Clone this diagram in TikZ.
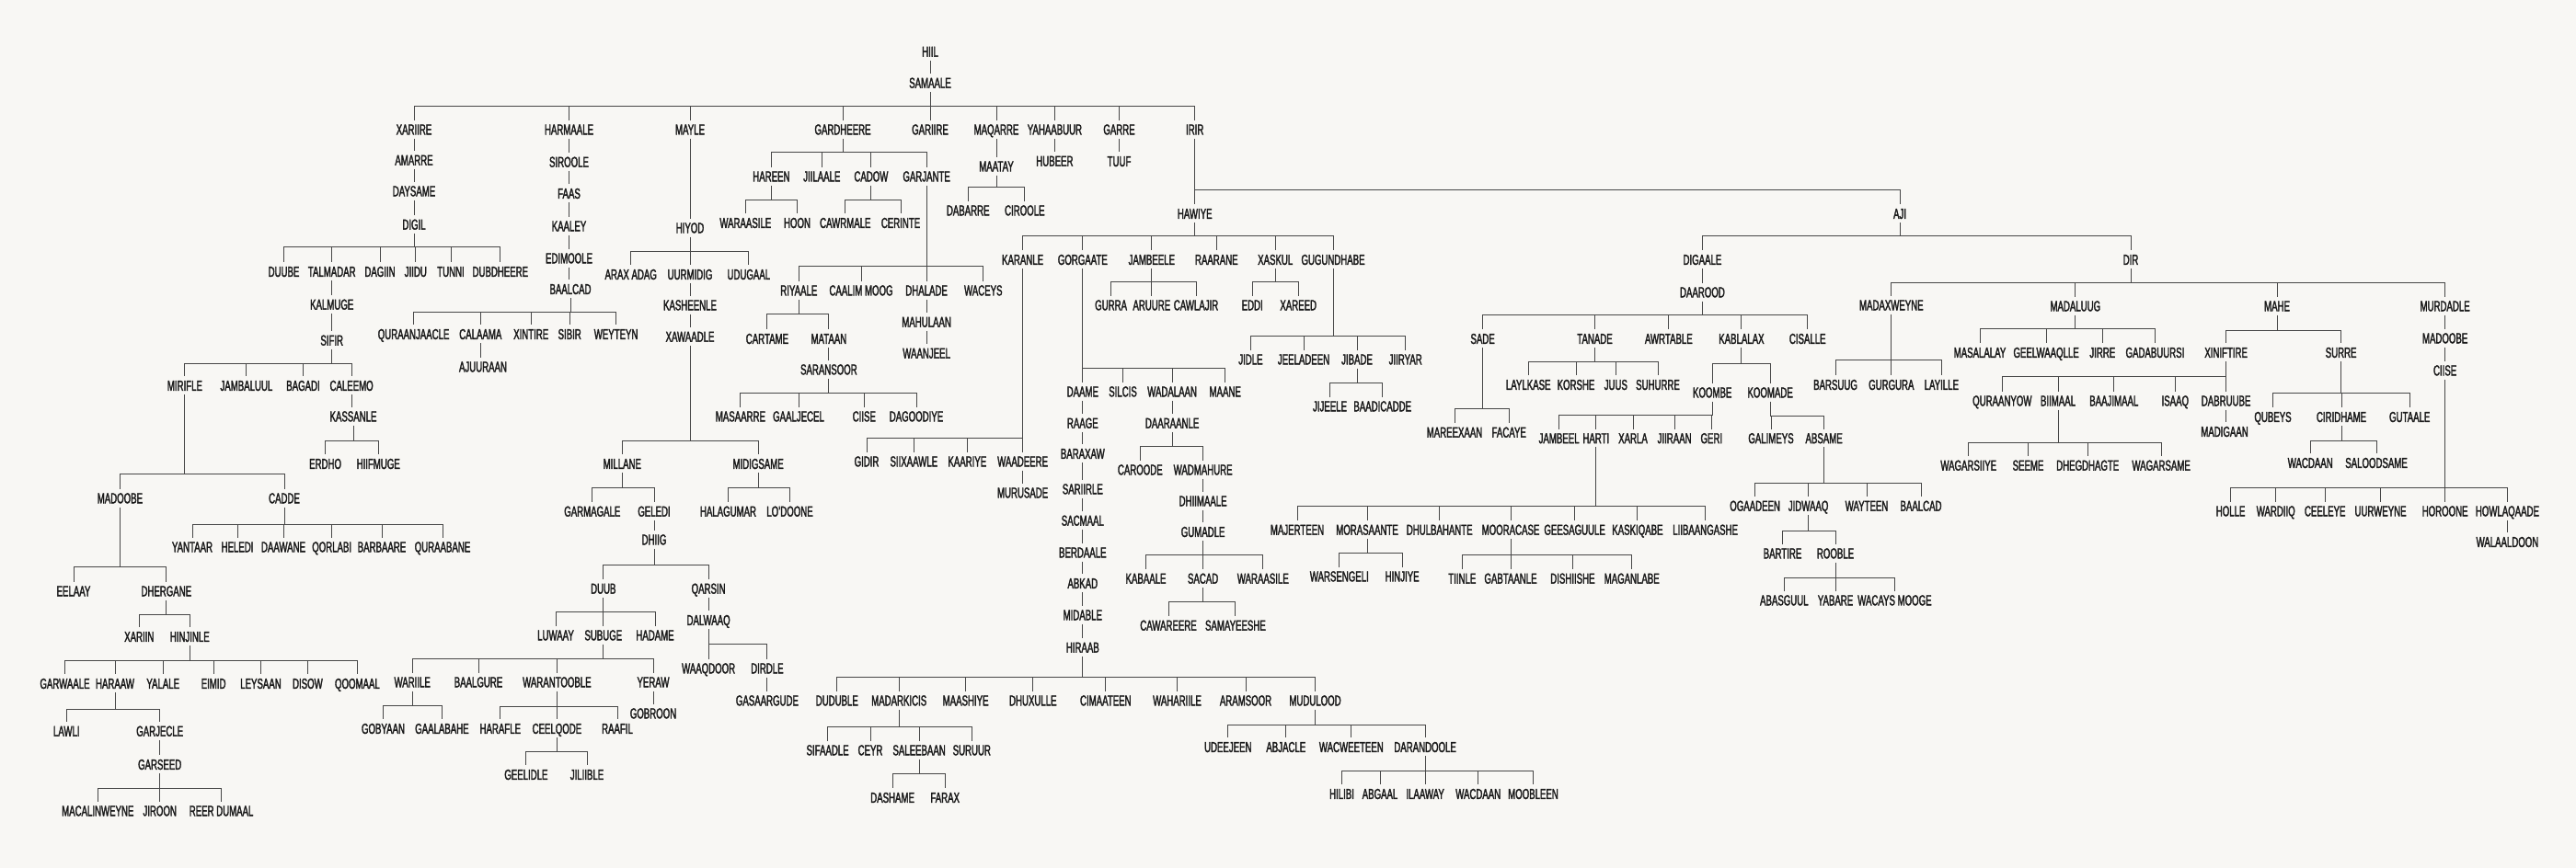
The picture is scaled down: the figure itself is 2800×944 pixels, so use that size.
\documentclass[tikz,border=0pt]{standalone}
\usepackage{fontspec}
\setmainfont{Liberation Sans}[FakeStretch=0.61,FakeBold=2]
\definecolor{bgc}{HTML}{F8F7F4}
\definecolor{linec}{HTML}{474747}
\definecolor{txtc}{HTML}{1A1A1A}
\tikzset{
  lbl/.style={inner xsep=1pt, inner ysep=4pt, text height=11.3pt, text depth=0pt, text=txtc, font=\fontsize{15.8}{17}\selectfont},
  conn/.style={draw=linec, line width=0.95pt}
}
\newcommand\nd[4]{\node[lbl] (#1) at (#2,#3) {#4};}
\newcommand\vlink[2]{\draw[conn] (#1.south) -- (#1.south |- #2.north);}
\newcommand\kids[3]{%
  \draw[conn] (#1.south) -- (#1.south |- 0,#2)
    \foreach \c in {#3}{ (#1.south |- 0,#2) -| (\c.north) };%
}
\begin{document}
\begin{tikzpicture}[x=1pt,y=-1pt]
\fill[bgc] (0,0) rectangle (2800,944);
\useasboundingbox (0,0) rectangle (2800,944);
% ---------- top
\nd{hiil}{1011}{56}{HIIL}
\nd{samaale}{1011}{90}{SAMAALE}
\nd{xariire}{450}{140.7}{XARIIRE}
\nd{harmaale}{618.5}{140.7}{HARMAALE}
\nd{mayle}{750}{140.7}{MAYLE}
\nd{gardheere}{916}{140.7}{GARDHEERE}
\nd{gariire}{1011}{140.7}{GARIIRE}
\nd{maqarre}{1083}{140.7}{MAQARRE}
\nd{yahaabuur}{1146.4}{140.7}{YAHAABUUR}
\nd{garre}{1216.5}{140.7}{GARRE}
\nd{irir}{1298.7}{140.7}{IRIR}
\vlink{hiil}{samaale}
\kids{samaale}{115}{xariire,harmaale,mayle,gardheere,gariire,maqarre,yahaabuur,garre,irir}
% ---------- Xariire
\nd{amarre}{450}{174}{AMARRE}
\nd{daysame}{450}{207.7}{DAYSAME}
\nd{digil}{450}{244}{DIGIL}
\vlink{xariire}{amarre}\vlink{amarre}{daysame}\vlink{daysame}{digil}
\nd{duube}{308.5}{295.3}{DUUBE}
\nd{talmadar}{360.7}{295.3}{TALMADAR}
\nd{dagiin}{413}{295.3}{DAGIIN}
\nd{jiidu}{451.8}{295.3}{JIIDU}
\nd{tunni}{490}{295.3}{TUNNI}
\nd{dubdheere}{543.8}{295.3}{DUBDHEERE}
\kids{digil}{268.7}{duube,talmadar,dagiin,jiidu,tunni,dubdheere}
\nd{kalmuge}{360.7}{331}{KALMUGE}
\nd{sifir}{360.7}{370}{SIFIR}
\vlink{talmadar}{kalmuge}\vlink{kalmuge}{sifir}
\nd{mirifle}{200.9}{419.3}{MIRIFLE}
\nd{jambaluul}{267.9}{419.3}{JAMBALUUL}
\nd{bagadi}{329.5}{419.3}{BAGADI}
\nd{caleemo}{382.1}{419.3}{CALEEMO}
\kids{sifir}{395}{mirifle,jambaluul,bagadi,caleemo}
\nd{kassanle}{384}{452.7}{KASSANLE}
\vlink{caleemo}{kassanle}
\nd{erdho}{353.6}{504.3}{ERDHO}
\nd{hiifmuge}{411.2}{504.3}{HIIFMUGE}
\kids{kassanle}{479.3}{erdho,hiifmuge}
\nd{madoobeA}{130.4}{541.7}{MADOOBE}
\nd{cadde}{309}{541.7}{CADDE}
\kids{mirifle}{515.3}{madoobeA,cadde}
\nd{yantaar}{209}{594.7}{YANTAAR}
\nd{heledi}{258}{594.7}{HELEDI}
\nd{daawane}{308}{594.7}{DAAWANE}
\nd{qorlabi}{360.7}{594.7}{QORLABI}
\nd{barbaare}{415}{594.7}{BARBAARE}
\nd{quraabane}{481}{594.7}{QURAABANE}
\kids{cadde}{570.3}{yantaar,heledi,daawane,qorlabi,barbaare,quraabane}
\nd{eelaay}{80}{642.7}{EELAAY}
\nd{dhergane}{180.8}{642.7}{DHERGANE}
\kids{madoobeA}{616.7}{eelaay,dhergane}
\nd{xariin}{151.3}{692.3}{XARIIN}
\nd{hinjinle}{206.3}{692.3}{HINJINLE}
\kids{dhergane}{668}{xariin,hinjinle}
\nd{garwaale}{70.5}{743.3}{GARWAALE}
\nd{haraaw}{125}{743.3}{HARAAW}
\nd{yalale}{177.2}{743.3}{YALALE}
\nd{eimid}{232.1}{743.3}{EIMID}
\nd{leysaan}{283.5}{743.3}{LEYSAAN}
\nd{disow}{334.4}{743.3}{DISOW}
\nd{qoomaal}{388.4}{743.3}{QOOMAAL}
\kids{hinjinle}{718.3}{garwaale,haraaw,yalale,eimid,leysaan,disow,qoomaal}
\nd{lawli}{72.3}{795}{LAWLI}
\nd{garjecle}{173.7}{795}{GARJECLE}
\kids{haraaw}{771.3}{lawli,garjecle}
\nd{garseed}{173.7}{831.3}{GARSEED}
\vlink{garjecle}{garseed}
\nd{macalinweyne}{106.3}{881.7}{MACALINWEYNE}
\nd{jiroon}{173.7}{881.7}{JIROON}
\nd{reerdumaal}{240.6}{881.7}{REER DUMAAL}
\kids{garseed}{857.3}{macalinweyne,jiroon,reerdumaal}
% ---------- Harmaale
\nd{siroole}{618.5}{176}{SIROOLE}
\nd{faas}{618.5}{210.3}{FAAS}
\nd{kaaley}{618.5}{245.7}{KAALEY}
\nd{edimoole}{618.5}{280.7}{EDIMOOLE}
\nd{baalcadA}{620}{314.3}{BAALCAD}
\vlink{harmaale}{siroole}\vlink{siroole}{faas}\vlink{faas}{kaaley}\vlink{kaaley}{edimoole}\vlink{edimoole}{baalcadA}
\nd{quraanjaacle}{449.6}{363.3}{QURAANJAACLE}
\nd{calaama}{522.3}{363.3}{CALAAMA}
\nd{xintire}{577.2}{363.3}{XINTIRE}
\nd{sibir}{619.2}{363.3}{SIBIR}
\nd{weyteyn}{669.6}{363.3}{WEYTEYN}
\kids{baalcadA}{339.3}{quraanjaacle,calaama,xintire,sibir,weyteyn}
\nd{ajuuraan}{525}{398.7}{AJUURAAN}
\vlink{calaama}{ajuuraan}
% ---------- Mayle
\nd{hiyod}{750}{247.7}{HIYOD}
\vlink{mayle}{hiyod}
\nd{araxadag}{685.7}{298.3}{ARAX ADAG}
\nd{uurmidig}{750}{298.3}{UURMIDIG}
\nd{udugaal}{813.8}{298.3}{UDUGAAL}
\kids{hiyod}{273}{araxadag,uurmidig,udugaal}
\nd{kasheenle}{750}{331.7}{KASHEENLE}
\nd{xawaadle}{750}{366}{XAWAADLE}
\vlink{uurmidig}{kasheenle}\vlink{kasheenle}{xawaadle}
\nd{millane}{676.3}{504.3}{MILLANE}
\nd{midigsame}{824.1}{504.3}{MIDIGSAME}
\kids{xawaadle}{479.3}{millane,midigsame}
\nd{garmagale}{643.8}{556}{GARMAGALE}
\nd{geledi}{711}{556}{GELEDI}
\kids{millane}{530}{garmagale,geledi}
\nd{halagumar}{791.5}{556}{HALAGUMAR}
\nd{lodoone}{858.5}{556}{LO'DOONE}
\kids{midigsame}{530}{halagumar,lodoone}
\nd{dhiig}{711}{586.7}{DHIIG}
\vlink{geledi}{dhiig}
\nd{duub}{655.8}{640}{DUUB}
\nd{qarsin}{770.1}{640}{QARSIN}
\kids{dhiig}{614.3}{duub,qarsin}
\nd{luwaay}{604}{690.7}{LUWAAY}
\nd{subuge}{655.8}{690.7}{SUBUGE}
\nd{hadame}{712}{690.7}{HADAME}
\kids{duub}{665.3}{luwaay,subuge,hadame}
\nd{wariile}{448.2}{741.7}{WARIILE}
\nd{baalgure}{520}{741.7}{BAALGURE}
\nd{warantooble}{605.4}{741.7}{WARANTOOBLE}
\nd{yeraw}{710}{741.7}{YERAW}
\kids{subuge}{716}{wariile,baalgure,warantooble,yeraw}
\nd{gobyaan}{416.5}{792.3}{GOBYAAN}
\nd{gaalabahe}{480.4}{792.3}{GAALABAHE}
\kids{wariile}{767.3}{gobyaan,gaalabahe}
\nd{harafle}{543.8}{792.3}{HARAFLE}
\nd{ceelqode}{605.4}{792.3}{CEELQODE}
\nd{raafil}{671}{792.3}{RAAFIL}
\kids{warantooble}{768.3}{harafle,ceelqode,raafil}
\nd{geelidle}{571.9}{842.3}{GEELIDLE}
\nd{jiliible}{638}{842.3}{JILIIBLE}
\kids{ceelqode}{817.7}{geelidle,jiliible}
\nd{gobroon}{710}{775.7}{GOBROON}
\vlink{yeraw}{gobroon}
\nd{dalwaaq}{770.1}{674.3}{DALWAAQ}
\vlink{qarsin}{dalwaaq}
\nd{waaqdoor}{770.1}{726.7}{WAAQDOOR}
\nd{dirdle}{833.9}{726.7}{DIRDLE}
\kids{dalwaaq}{700.7}{waaqdoor,dirdle}
\nd{gasaargude}{833.9}{761.7}{GASAARGUDE}
\vlink{dirdle}{gasaargude}
% ---------- Gardheere
\nd{hareen}{838.4}{191.7}{HAREEN}
\nd{jiilaale}{893.3}{191.7}{JIILAALE}
\nd{cadow}{946.9}{191.7}{CADOW}
\nd{garjante}{1007.1}{191.7}{GARJANTE}
\kids{gardheere}{165.7}{hareen,jiilaale,cadow,garjante}
\nd{waraasileA}{810.3}{242.3}{WARAASILE}
\nd{hoon}{866.5}{242.3}{HOON}
\kids{hareen}{217.7}{waraasileA,hoon}
\nd{cawrmale}{918.8}{242.3}{CAWRMALE}
\nd{cerinte}{979}{242.3}{CERINTE}
\kids{cadow}{217.7}{cawrmale,cerinte}
\nd{riyaale}{868.3}{315.7}{RIYAALE}
\nd{caalimmoog}{936}{315.7}{CAALIM MOOG}
\nd{dhalade}{1007.1}{315.7}{DHALADE}
\nd{waceys}{1068.8}{315.7}{WACEYS}
\kids{garjante}{289.3}{riyaale,caalimmoog,dhalade,waceys}
\nd{cartame}{833.9}{368.3}{CARTAME}
\nd{mataan}{900.9}{368.3}{MATAAN}
\kids{riyaale}{341.7}{cartame,mataan}
\nd{saransoor}{900.9}{401.7}{SARANSOOR}
\vlink{mataan}{saransoor}
\nd{masaarre}{804.9}{452.7}{MASAARRE}
\nd{gaaljecel}{868}{452.7}{GAALJECEL}
\nd{ciiseA}{939.3}{452.7}{CIISE}
\nd{dagoodiye}{996}{452.7}{DAGOODIYE}
\kids{saransoor}{427.7}{masaarre,gaaljecel,ciiseA,dagoodiye}
\nd{mahulaan}{1007.1}{350}{MAHULAAN}
\nd{waanjeel}{1007.1}{384}{WAANJEEL}
\vlink{dhalade}{mahulaan}\vlink{mahulaan}{waanjeel}
% ---------- Maqarre, Yahaabuur, Garre
\nd{maatay}{1083}{180.7}{MAATAY}
\vlink{maqarre}{maatay}
\nd{dabarre}{1052.2}{228.7}{DABARRE}
\nd{ciroole}{1113.8}{228.7}{CIROOLE}
\kids{maatay}{203}{dabarre,ciroole}
\nd{hubeer}{1146.4}{175}{HUBEER}
\vlink{yahaabuur}{hubeer}
\nd{tuuf}{1216.5}{175.3}{TUUF}
\vlink{garre}{tuuf}
% ---------- Irir
\nd{hawiye}{1298.7}{232.3}{HAWIYE}
\nd{aji}{2065}{232.3}{AJI}
\kids{irir}{206}{hawiye,aji}
\nd{karanle}{1111.6}{282.3}{KARANLE}
\nd{gorgaate}{1176.8}{282.3}{GORGAATE}
\nd{jambeele}{1251.8}{282.3}{JAMBEELE}
\nd{raarane}{1322.3}{282.3}{RAARANE}
\nd{xaskul}{1386.2}{282.3}{XASKUL}
\nd{gugundhabe}{1449}{282.3}{GUGUNDHABE}
\kids{hawiye}{256.7}{karanle,gorgaate,jambeele,raarane,xaskul,gugundhabe}
\nd{gurra}{1207.6}{331.7}{GURRA}
\nd{aruure}{1251.8}{331.7}{ARUURE}
\nd{cawlajir}{1300}{331.7}{CAWLAJIR}
\kids{jambeele}{306.7}{gurra,aruure,cawlajir}
\nd{eddi}{1361.2}{331.7}{EDDI}
\nd{xareed}{1411.2}{331.7}{XAREED}
\kids{xaskul}{306.7}{eddi,xareed}
\nd{jidle}{1359.4}{390.7}{JIDLE}
\nd{jeeladeen}{1417}{390.7}{JEELADEEN}
\nd{jibade}{1475}{390.7}{JIBADE}
\nd{jiiryar}{1527.7}{390.7}{JIIRYAR}
\kids{gugundhabe}{365}{jidle,jeeladeen,jibade,jiiryar}
\nd{jijeele}{1445.5}{441.7}{JIJEELE}
\nd{baadicadde}{1502.7}{441.7}{BAADICADDE}
\kids{jibade}{416.7}{jijeele,baadicadde}
\nd{gidir}{942}{501.7}{GIDIR}
\nd{siixaawle}{993.3}{501.7}{SIIXAAWLE}
\nd{kaariye}{1051.3}{501.7}{KAARIYE}
\nd{waadeere}{1111.6}{501.7}{WAADEERE}
\kids{karanle}{476}{gidir,siixaawle,kaariye,waadeere}
\nd{murusade}{1111.6}{535.7}{MURUSADE}
\vlink{waadeere}{murusade}
\nd{daame}{1176.8}{425.7}{DAAME}
\nd{silcis}{1220.5}{425.7}{SILCIS}
\nd{wadalaan}{1274.1}{425.7}{WADALAAN}
\nd{maane}{1331.7}{425.7}{MAANE}
\kids{gorgaate}{400.7}{daame,silcis,wadalaan,maane}
\nd{raage}{1176.8}{460}{RAAGE}
\nd{baraxaw}{1176.8}{493.3}{BARAXAW}
\nd{sariirle}{1176.8}{531.7}{SARIIRLE}
\nd{sacmaal}{1176.8}{566}{SACMAAL}
\nd{berdaale}{1176.8}{600.7}{BERDAALE}
\nd{abkad}{1176.8}{634.3}{ABKAD}
\nd{midable}{1176.8}{668.7}{MIDABLE}
\nd{hiraab}{1176.8}{704}{HIRAAB}
\vlink{daame}{raage}\vlink{raage}{baraxaw}\vlink{baraxaw}{sariirle}\vlink{sariirle}{sacmaal}
\vlink{sacmaal}{berdaale}\vlink{berdaale}{abkad}\vlink{abkad}{midable}\vlink{midable}{hiraab}
\nd{duduble}{909.8}{761.7}{DUDUBLE}
\nd{madarkicis}{977.2}{761.7}{MADARKICIS}
\nd{maashiye}{1049.6}{761.7}{MAASHIYE}
\nd{dhuxulle}{1122.8}{761.7}{DHUXULLE}
\nd{cimaateen}{1201.8}{761.7}{CIMAATEEN}
\nd{wahariile}{1279.5}{761.7}{WAHARIILE}
\nd{aramsoor}{1354}{761.7}{ARAMSOOR}
\nd{mudulood}{1429.5}{761.7}{MUDULOOD}
\kids{hiraab}{736.3}{duduble,madarkicis,maashiye,dhuxulle,cimaateen,wahariile,aramsoor,mudulood}
\nd{sifaadle}{899.6}{815.7}{SIFAADLE}
\nd{ceyr}{946}{815.7}{CEYR}
\nd{saleebaan}{999.1}{815.7}{SALEEBAAN}
\nd{suruur}{1056.3}{815.7}{SURUUR}
\kids{madarkicis}{790.7}{sifaadle,ceyr,saleebaan,suruur}
\nd{dashame}{970.1}{867.3}{DASHAME}
\nd{farax}{1027.2}{867.3}{FARAX}
\kids{saleebaan}{841.7}{dashame,farax}
\nd{udeejeen}{1334.8}{812.3}{UDEEJEEN}
\nd{abjacle}{1397.8}{812.3}{ABJACLE}
\nd{wacweeteen}{1468.8}{812.3}{WACWEETEEN}
\nd{darandoole}{1549.1}{812.3}{DARANDOOLE}
\kids{mudulood}{788.3}{udeejeen,abjacle,wacweeteen,darandoole}
\nd{hilibi}{1458.5}{863.3}{HILIBI}
\nd{abgaal}{1500}{863.3}{ABGAAL}
\nd{ilaaway}{1549.1}{863.3}{ILAAWAY}
\nd{wacdaanA}{1606.7}{863.3}{WACDAAN}
\nd{moobleen}{1666.5}{863.3}{MOOBLEEN}
\kids{darandoole}{838.3}{hilibi,abgaal,ilaaway,wacdaanA,moobleen}
\nd{daaraanle}{1274.1}{460}{DAARAANLE}
\vlink{wadalaan}{daaraanle}
\nd{caroode}{1239.3}{510.7}{CAROODE}
\nd{wadmahure}{1307.6}{510.7}{WADMAHURE}
\kids{daaraanle}{485}{caroode,wadmahure}
\nd{dhiimaale}{1307.6}{544.7}{DHIIMAALE}
\nd{gumadle}{1307.6}{578.3}{GUMADLE}
\vlink{wadmahure}{dhiimaale}\vlink{dhiimaale}{gumadle}
\nd{kabaale}{1245.5}{629}{KABAALE}
\nd{sacad}{1307.6}{629}{SACAD}
\nd{waraasileB}{1372.8}{629}{WARAASILE}
\kids{gumadle}{603.7}{kabaale,sacad,waraasileB}
\nd{cawareere}{1270}{680}{CAWAREERE}
\nd{samayeeshe}{1342.9}{680}{SAMAYEESHE}
\kids{sacad}{654.3}{cawareere,samayeeshe}
% ---------- Aji
\nd{digaale}{1850.4}{282.3}{DIGAALE}
\nd{dir}{2316}{282.3}{DIR}
\kids{aji}{256.3}{digaale,dir}
\nd{daarood}{1850.4}{317.7}{DAAROOD}
\vlink{digaale}{daarood}
\nd{sade}{1611.6}{368.3}{SADE}
\nd{tanade}{1733.5}{368.3}{TANADE}
\nd{awrtable}{1813.8}{368.3}{AWRTABLE}
\nd{kablalax}{1892.9}{368.3}{KABLALAX}
\nd{cisalle}{1964.7}{368.3}{CISALLE}
\kids{daarood}{342.7}{sade,tanade,awrtable,kablalax,cisalle}
\nd{laylkase}{1661.2}{418.3}{LAYLKASE}
\nd{korshe}{1713}{418.3}{KORSHE}
\nd{juus}{1756.3}{418.3}{JUUS}
\nd{suhurre}{1802}{418.3}{SUHURRE}
\kids{tanade}{393.3}{laylkase,korshe,juus,suhurre}
\nd{koombe}{1861.2}{426.7}{KOOMBE}
\nd{koomade}{1924.1}{426.7}{KOOMADE}
\kids{kablalax}{395}{koombe,koomade}
\nd{mareexaan}{1581}{470}{MAREEXAAN}
\nd{facaye}{1640.2}{470}{FACAYE}
\kids{sade}{444.3}{mareexaan,facaye}
\nd{jambeel}{1694.6}{476.5}{JAMBEEL}
\nd{harti}{1734.8}{476.5}{HARTI}
\nd{xarla}{1775}{476.5}{XARLA}
\nd{jiiraan}{1820.1}{476.5}{JIIRAAN}
\nd{geri}{1860.3}{476.5}{GERI}
\kids{koombe}{451.7}{jambeel,harti,xarla,jiiraan,geri}
\nd{galimeys}{1925}{476.5}{GALIMEYS}
\nd{absame}{1982.6}{476.5}{ABSAME}
\kids{koomade}{452.7}{galimeys,absame}
\nd{majerteen}{1410}{576}{MAJERTEEN}
\nd{morasaante}{1486}{576}{MORASAANTE}
\nd{dhulbahante}{1564.7}{576}{DHULBAHANTE}
\nd{mooracase}{1642}{576}{MOORACASE}
\nd{geesaguule}{1711.6}{576}{GEESAGUULE}
\nd{kaskiqabe}{1779.9}{576}{KASKIQABE}
\nd{liibaangashe}{1853.6}{576}{LIIBAANGASHE}
\kids{harti}{550.7}{majerteen,morasaante,dhulbahante,mooracase,geesaguule,kaskiqabe,liibaangashe}
\nd{warsengeli}{1455.8}{626.7}{WARSENGELI}
\nd{hinjiye}{1524.1}{626.7}{HINJIYE}
\kids{morasaante}{601.7}{warsengeli,hinjiye}
\nd{tiinle}{1589.3}{629}{TIINLE}
\nd{gabtaanle}{1642}{629}{GABTAANLE}
\nd{dishiishe}{1709.4}{629}{DISHIISHE}
\nd{maganlabe}{1773.7}{629}{MAGANLABE}
\kids{mooracase}{603.3}{tiinle,gabtaanle,dishiishe,maganlabe}
\nd{ogaadeen}{1907.6}{550}{OGAADEEN}
\nd{jidwaaq}{1965.6}{550}{JIDWAAQ}
\nd{wayteen}{2029}{550}{WAYTEEN}
\nd{baalcadB}{2088}{550}{BAALCAD}
\kids{absame}{525}{ogaadeen,jidwaaq,wayteen,baalcadB}
\nd{bartire}{1937.5}{601.7}{BARTIRE}
\nd{rooble}{1995}{601.7}{ROOBLE}
\kids{jidwaaq}{577.3}{bartire,rooble}
\nd{abasguul}{1939.3}{652.7}{ABASGUUL}
\nd{yabare}{1995}{652.7}{YABARE}
\nd{wacaysmooge}{2059.4}{652.7}{WACAYS MOOGE}
\kids{rooble}{628}{abasguul,yabare,wacaysmooge}
% ---------- Dir
\nd{madaxweyne}{2055.8}{331.7}{MADAXWEYNE}
\nd{madaluug}{2255.8}{332.7}{MADALUUG}
\nd{mahe}{2475}{332.7}{MAHE}
\nd{murdadle}{2657.6}{332.7}{MURDADLE}
\kids{dir}{307}{madaxweyne,madaluug,mahe,murdadle}
\nd{barsuug}{1995}{418.3}{BARSUUG}
\nd{gurgura}{2055.8}{418.3}{GURGURA}
\nd{layille}{2110.3}{418.3}{LAYILLE}
\kids{madaxweyne}{391.7}{barsuug,gurgura,layille}
\nd{masalalay}{2152}{383.3}{MASALALAY}
\nd{geelwaaqlle}{2224.1}{383.3}{GEELWAAQLLE}
\nd{jirre}{2285.3}{383.3}{JIRRE}
\nd{gadabuursi}{2342.4}{383.3}{GADABUURSI}
\kids{madaluug}{357.3}{masalalay,geelwaaqlle,jirre,gadabuursi}
\nd{xiniftire}{2419.6}{383.3}{XINIFTIRE}
\nd{surre}{2544.6}{383.3}{SURRE}
\kids{mahe}{359}{xiniftire,surre}
\nd{quraanyow}{2176.3}{435.7}{QURAANYOW}
\nd{biimaal}{2237}{435.7}{BIIMAAL}
\nd{baajimaal}{2297.8}{435.7}{BAAJIMAAL}
\nd{isaaq}{2364.3}{435.7}{ISAAQ}
\nd{dabruube}{2419.6}{435.7}{DABRUUBE}
\kids{xiniftire}{409.3}{quraanyow,biimaal,baajimaal,isaaq,dabruube}
\nd{madigaan}{2418}{469.3}{MADIGAAN}
\vlink{dabruube}{madigaan}
\nd{wagarsiiye}{2139.7}{506}{WAGARSIIYE}
\nd{seeme}{2204.5}{506}{SEEME}
\nd{dhegdhagte}{2269.2}{506}{DHEGDHAGTE}
\nd{wagarsame}{2349.1}{506}{WAGARSAME}
\kids{biimaal}{481.7}{wagarsiiye,seeme,dhegdhagte,wagarsame}
\nd{qubeys}{2470.5}{453.3}{QUBEYS}
\nd{ciridhame}{2545}{453.3}{CIRIDHAME}
\nd{gutaale}{2619.2}{453.3}{GUTAALE}
\kids{surre}{427.3}{qubeys,ciridhame,gutaale}
\nd{wacdaanB}{2511.2}{503.3}{WACDAAN}
\nd{saloodsame}{2583}{503.3}{SALOODSAME}
\kids{ciridhame}{479}{wacdaanB,saloodsame}
\nd{madoobeB}{2657.6}{367.7}{MADOOBE}
\nd{ciiseB}{2657.6}{402.7}{CIISE}
\vlink{murdadle}{madoobeB}\vlink{madoobeB}{ciiseB}
\nd{holle}{2424.6}{555.7}{HOLLE}
\nd{wardiiq}{2473.7}{555.7}{WARDIIQ}
\nd{ceeleye}{2527.2}{555.7}{CEELEYE}
\nd{uurweyne}{2587.5}{555.7}{UURWEYNE}
\nd{horoone}{2657.6}{555.7}{HOROONE}
\nd{howlaqaade}{2725.4}{555.7}{HOWLAQAADE}
\kids{ciiseB}{530.3}{holle,wardiiq,ceeleye,uurweyne,horoone,howlaqaade}
\nd{walaaldoon}{2725.4}{589.3}{WALAALDOON}
\vlink{howlaqaade}{walaaldoon}
\end{tikzpicture}
\end{document}
